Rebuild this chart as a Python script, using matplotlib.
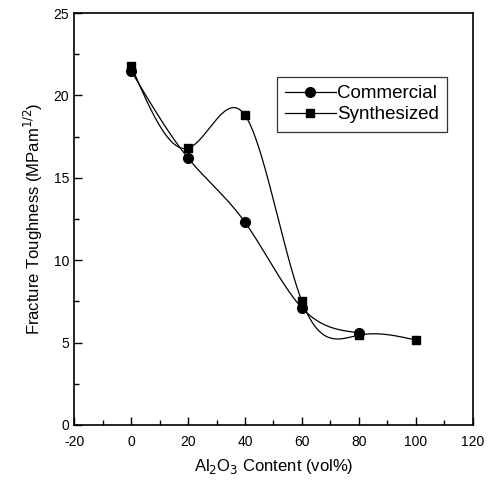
import matplotlib
matplotlib.use("Agg")
import matplotlib.pyplot as plt
import numpy as np
from matplotlib.ticker import MultipleLocator

plt.rcParams['font.family'] = ['Liberation Sans', 'DejaVu Sans']
plt.rcParams['axes.unicode_minus'] = False

x_comm = [0, 20, 40, 60, 80]
y_comm = [21.5, 16.2, 12.3, 7.1, 5.6]

x_syn = [0, 20, 40, 60, 80, 100]
y_syn = [21.8, 16.8, 18.8, 7.5, 5.45, 5.15]


def natural_spline(x, y, n=300):
    # plain natural cubic spline, like Origin's spline connect
    x = np.asarray(x, float)
    y = np.asarray(y, float)
    m = len(x)
    h = np.diff(x)
    A = np.zeros((m, m))
    b = np.zeros(m)
    A[0, 0] = A[-1, -1] = 1
    for i in range(1, m - 1):
        A[i, i - 1] = h[i - 1]
        A[i, i] = 2 * (h[i - 1] + h[i])
        A[i, i + 1] = h[i]
        b[i] = 3 * ((y[i + 1] - y[i]) / h[i] - (y[i] - y[i - 1]) / h[i - 1])
    c = np.linalg.solve(A, b)
    xs = np.linspace(x[0], x[-1], n)
    ys = np.empty_like(xs)
    for k, xv in enumerate(xs):
        i = min(np.searchsorted(x, xv, side='right') - 1, m - 2)
        bi = (y[i + 1] - y[i]) / h[i] - h[i] * (2 * c[i] + c[i + 1]) / 3
        di = (c[i + 1] - c[i]) / (3 * h[i])
        t = xv - x[i]
        ys[k] = y[i] + bi * t + c[i] * t ** 2 + di * t ** 3
    return xs, ys


fig = plt.figure(figsize=(4.91, 4.84), dpi=100)
ax = fig.add_axes([0.151, 0.122, 0.812, 0.851])

xs, ys = natural_spline(x_comm, y_comm)
ax.plot(xs, ys, color='black', lw=0.9)
ax.plot(x_comm, y_comm, 'o', color='black', ms=7)

xs, ys = natural_spline(x_syn, y_syn)
ax.plot(xs, ys, color='black', lw=0.9)
ax.plot(x_syn, y_syn, 's', color='black', ms=6)

# legend proxies
ax.plot([], [], '-o', color='black', lw=0.9, ms=7, label='Commercial')
ax.plot([], [], '-s', color='black', lw=0.9, ms=6, label='Synthesized')
leg = ax.legend(loc='upper left', bbox_to_anchor=(0.508, 0.845), fontsize=13.5,
                frameon=True, fancybox=False, edgecolor='black',
                handlelength=2.7, handletextpad=0.05, borderpad=0.45,
                labelspacing=0.2, borderaxespad=0)
leg.get_frame().set_linewidth(0.9)

ax.set_xlim(-20, 120)
ax.set_ylim(0, 25)
ax.xaxis.set_major_locator(MultipleLocator(20))
ax.xaxis.set_minor_locator(MultipleLocator(10))
ax.yaxis.set_major_locator(MultipleLocator(5))
ax.yaxis.set_minor_locator(MultipleLocator(2.5))
ax.tick_params(which='both', direction='in', top=False, right=False, labelsize=10)
ax.tick_params(which='major', length=6, width=1)
ax.tick_params(which='minor', length=3.5, width=1)
ax.tick_params(axis='x', pad=7)
for s in ax.spines.values():
    s.set_linewidth(1.2)

ax.set_xlabel(r'Al$_2$O$_3$ Content (vol%)', fontsize=12, labelpad=6)
ax.set_ylabel(r'Fracture Toughness (MPam$^{1/2}$)', fontsize=12, labelpad=6)

fig.savefig('out.png', dpi=100)
